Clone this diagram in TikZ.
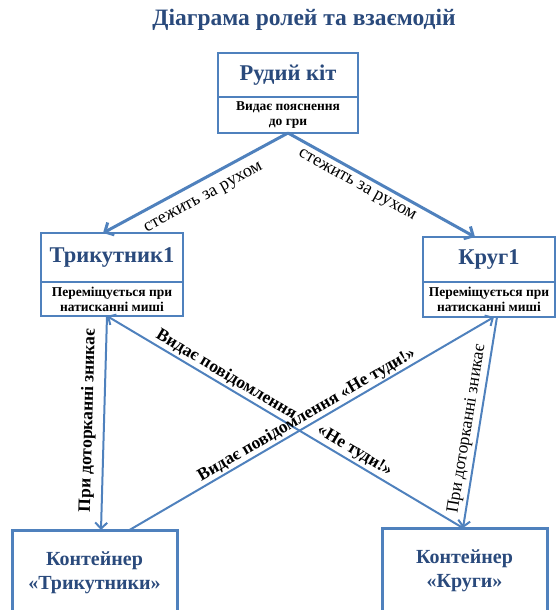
\documentclass[tikz,border=0pt]{standalone}
\usepackage{fontspec}
\setmainfont{Liberation Serif}
\usetikzlibrary{positioning,arrows.meta}
\definecolor{boxblue}{HTML}{4F81BD}
\definecolor{inkblue}{HTML}{2A4A7C}
\tikzset{
  head/.style      = {draw=boxblue, line width=2.5pt, outer sep=0pt, inner sep=0pt,
                      font=\bfseries\fontsize{22.5}{24}\selectfont, text=inkblue},
  note/.style      = {draw=boxblue, line width=2.5pt, outer sep=0pt, inner sep=0pt,
                      align=center, font=\bfseries\fontsize{13.5}{15}\selectfont},
  cont/.style      = {draw=boxblue, line width=3pt, outer sep=0pt, align=center,
                      minimum width=165pt, minimum height=86pt,
                      font=\bfseries\fontsize{20}{24}\selectfont, text=inkblue},
  bigarrow/.style  = {draw=boxblue, line width=3pt,
                      -{Straight Barb[length=7pt,width=14pt]}},
  thinarrow/.style = {draw=boxblue, line width=2pt,
                      -{Straight Barb[length=6pt,width=12pt]}},
  lbl/.style       = {sloped, inner sep=2pt, font=\fontsize{18}{20}\selectfont},
  blbl/.style      = {sloped, inner sep=2pt, font=\bfseries\fontsize{17.5}{19}\selectfont}
}

\begin{document}
\begin{tikzpicture}[x=1pt,y=-1pt]
  \useasboundingbox (0,0) rectangle (558,610);

  \node[font=\bfseries\fontsize{23.5}{25}\selectfont, text=inkblue] (title) at (304,20)
    {Діаграма ролей та взаємодій};

  % roles
  \node[head, minimum width=140pt, minimum height=44pt] (cathead) at (288,75) {Рудий кіт};
  \node[note, minimum width=140pt, minimum height=36pt, below=0pt of cathead] (catnote)
    {Видає пояснення\\до гри};

  \node[head, minimum width=142pt, minimum height=49pt] (trihead) at (112,257.5) {Трикутник1};
  \node[note, minimum width=142pt, minimum height=34pt, below=0pt of trihead] (trinote)
    {Переміщується при\\натисканні миші};

  \node[head, minimum width=132pt, minimum height=45pt] (krhead) at (489,259.5) {Круг1};
  \node[note, minimum width=132pt, minimum height=35pt, below=0pt of krhead] (krnote)
    {Переміщується при\\натисканні миші};

  % containers
  \node[cont] (lcont) at (94.5,573) {Контейнер\\«Трикутники»};
  \node[cont] (rcont) at (464.5,571) {Контейнер\\«Круги»};

  % links
  \draw[bigarrow] (catnote.south) -- node[lbl, below=8pt, pos=0.5] {стежить за рухом}
    ([xshift=-9pt]trihead.north);
  \draw[bigarrow] (catnote.south) -- node[lbl, below=3pt, pos=0.4] {стежить за рухом}
    ([xshift=-14pt]krhead.north);

  \draw[thinarrow] ([xshift=-5pt]trinote.south) -- node[blbl, above=5pt, pos=0.49] {При доторканні зникає}
    ([xshift=6.5pt]lcont.north);
  \draw[thinarrow] ([xshift=8pt]krnote.south) -- node[lbl, above=1pt, pos=0.54,
    font=\fontsize{17.5}{19}\selectfont] {При доторканні зникає} ([xshift=-1.5pt]rcont.north);

  \draw[thinarrow] ([xshift=-1.5pt]rcont.north)
    -- node[blbl, above=0pt, pos=0.32] {«Не туди!»}
       node[blbl, above=0pt, pos=0.68] {Видає повідомлення}
    ([xshift=-5pt]trinote.south);
  \draw[thinarrow] ([xshift=35pt]lcont.north)
    -- node[blbl, above=-1pt, pos=0.50] {Видає повідомлення «Не туди!»}
    ([xshift=5pt]krnote.south);
\end{tikzpicture}
\end{document}
